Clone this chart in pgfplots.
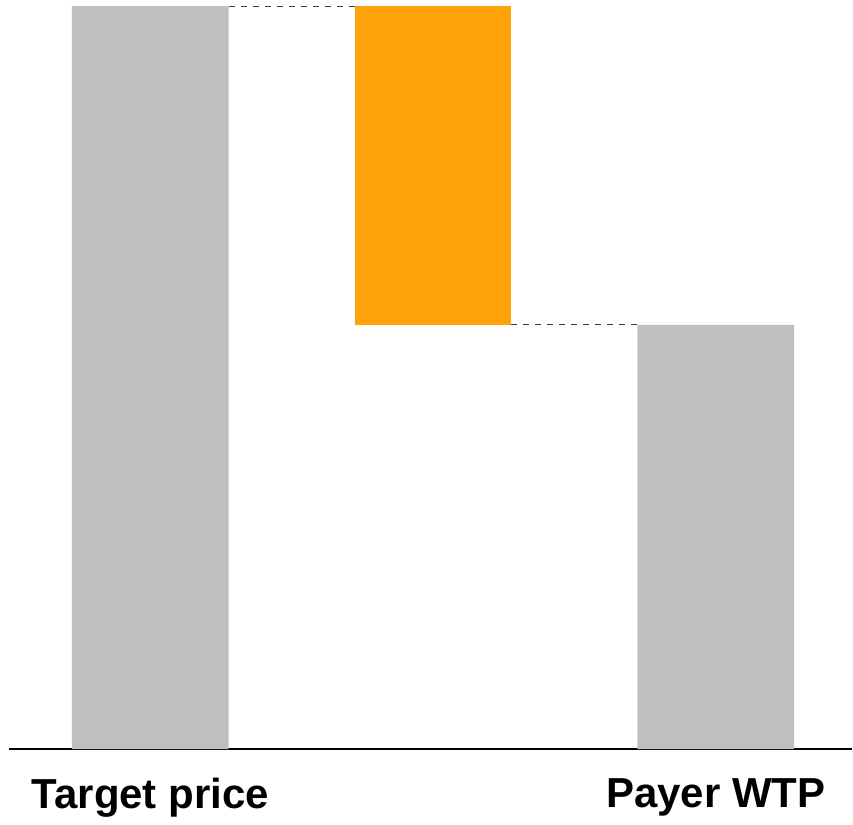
\documentclass[border=0pt]{standalone}
\usepackage{pgfplots}
\pgfplotsset{compat=1.18}
\usepackage{fontspec}
\setmainfont{Liberation Sans}
\definecolor{barGray}{RGB}{191,191,191}
\definecolor{barOrange}{RGB}{255,162,10}
\definecolor{dashGray}{RGB}{60,60,60}
\begin{document}
\begin{tikzpicture}
\begin{axis}[
  scale only axis,
  width=422pt, height=375pt,
  xmin=-0.5, xmax=2.482,
  ymin=0, ymax=100.81,
  axis x line=bottom, axis y line=none,
  axis line style={black, line width=1pt, -},
  ybar stacked, bar width=78.5pt,
  xtick={0,2}, xticklabels={Target price, Payer WTP},
  major tick length=0pt,
  xticklabel style={font=\fontsize{21}{24}\selectfont\bfseries, yshift=-11pt},
  clip=false,
]
\addplot[draw=none, fill=none] coordinates {(0,0) (1,57.1) (2,0)};
\addplot[draw=none, fill=barGray] coordinates {(0,100) (1,0) (2,57.1)};
\addplot[draw=none, fill=barOrange] coordinates {(0,0) (1,42.9) (2,0)};
\addplot[stack plots=false, sharp plot, dashed, dashGray, line width=0.5pt] coordinates {(0.2774,100) (0.7226,100)};
\addplot[stack plots=false, sharp plot, dashed, dashGray, line width=0.5pt] coordinates {(1.2774,57.1) (1.7226,57.1)};
\path (rel axis cs:0,0) ++(-4.5pt,0pt);
\path (rel axis cs:0,1);
\end{axis}
\end{tikzpicture}
\end{document}
